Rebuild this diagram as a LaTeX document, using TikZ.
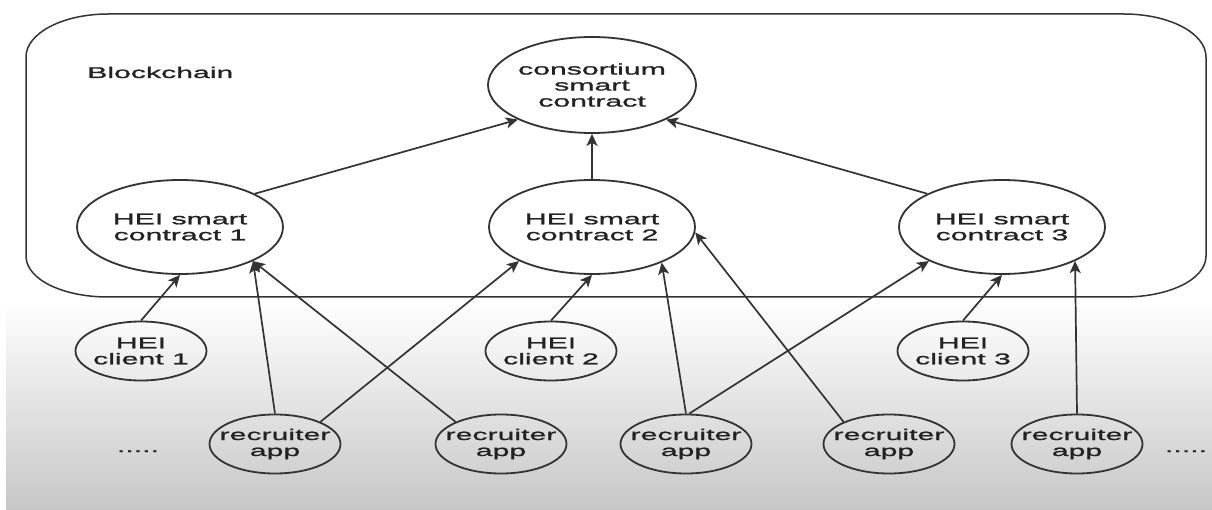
\documentclass[tikz,border=0pt]{standalone}
\usepackage{fontspec}
\usetikzlibrary{shapes.geometric,arrows.meta}
\newfontfamily\widesans{Liberation Sans}[FakeStretch=1.95,FakeBold=1.2]
\newcommand\diafont{\widesans\fontsize{15.5}{16}\selectfont}
\definecolor{linec}{HTML}{333333}
\definecolor{textc}{HTML}{222222}
\begin{document}
\begin{tikzpicture}[x=1pt,y=-1pt,
  bub/.style={ellipse, draw=linec, line width=1.8pt, inner sep=0pt},
  big/.style={bub, minimum width=206pt, minimum height=94pt},
  small/.style={bub, minimum width=131pt, minimum height=59pt},
  txt/.style={align=center, inner sep=0pt, text=textc, font=\diafont},
  arr/.style={draw=linec, line width=1.7pt, -{Stealth[length=12pt,width=11pt,inset=3pt]}},
  frame/.style={draw=linec, line width=1.5pt}]
  % canvas and the grey fade at the bottom
  \useasboundingbox (0,0) rectangle (1212,510);
  \fill[white] (0,0) rectangle (1212,510);
  \shade[top color=white, bottom color=black!22] (6,300) rectangle (1212,510);

  % blockchain container with flattened corners
  \draw[frame] (108,14) -- (1124,14)
    .. controls (1169.3,14) and (1206,33.25) .. (1206,57) -- (1206,256)
    .. controls (1206,279.3) and (1169.3,297) .. (1124,297) -- (108,297)
    .. controls (62.7,297) and (26,279.3) .. (26,256) -- (26,57)
    .. controls (26,33.25) and (62.7,14) .. (108,14) -- cycle;
  \node[txt, anchor=base west] (bc) at (87,78) {Blockchain};

  % smart contracts
  \node[big, minimum width=208pt, minimum height=96pt,
        label={[txt]center:consortium\\smart\\contract}] (cons) at (592,85) {};
  \node[big, label={[txt]center:HEI smart\\contract 1}] (sc1) at (180,227) {};
  \node[big, label={[txt]center:HEI smart\\contract 2}] (sc2) at (592,227) {};
  \node[big, label={[txt]center:HEI smart\\contract 3}] (sc3) at (1002,227) {};

  % HEI clients
  \node[small, label={[txt]center:HEI\\client 1}] (cl1) at (141,351) {};
  \node[small, label={[txt]center:HEI\\client 2}] (cl2) at (551,351) {};
  \node[small, label={[txt]center:HEI\\client 3}] (cl3) at (963,351) {};

  % recruiter apps
  \node[small, label={[txt]center:recruiter\\app}] (ra1) at (275,444) {};
  \node[small, label={[txt]center:recruiter\\app}] (ra2) at (501,444) {};
  \node[small, label={[txt]center:recruiter\\app}] (ra3) at (686,444) {};
  \node[small, label={[txt]center:recruiter\\app}] (ra4) at (889,444) {};
  \node[small, label={[txt]center:recruiter\\app}] (ra5) at (1077,444) {};
  \node[txt, anchor=base] (dotsl) at (138,452) {.....};
  \node[txt, anchor=base] (dotsr) at (1186,452) {.....};

  % contract hierarchy
  \draw[arr] (sc1.24) -- (cons.205);
  \draw[arr] (sc2.north) -- (cons.south);
  \draw[arr] (sc3.156) -- (cons.335);

  % clients to their contracts
  \draw[arr] (cl1.north) -- (sc1.south);
  \draw[arr] (cl2.north) -- (sc2.south);
  \draw[arr] (cl3.north) -- (sc3.south);

  % recruiter apps to contracts
  \draw[arr] (ra1.north) -- (sc1.335);
  \draw[arr] (ra2.154) -- (sc1.335);
  \draw[arr] (ra1.26) -- (sc2.205);
  \draw[arr] (ra3.north) -- (sc2.333);
  \draw[arr] (ra3.84) -- (sc3.205);
  \draw[arr] (ra4.154) -- (sc2.357);
  \draw[arr] (ra5.north) -- (sc3.335);
\end{tikzpicture}
\end{document}
